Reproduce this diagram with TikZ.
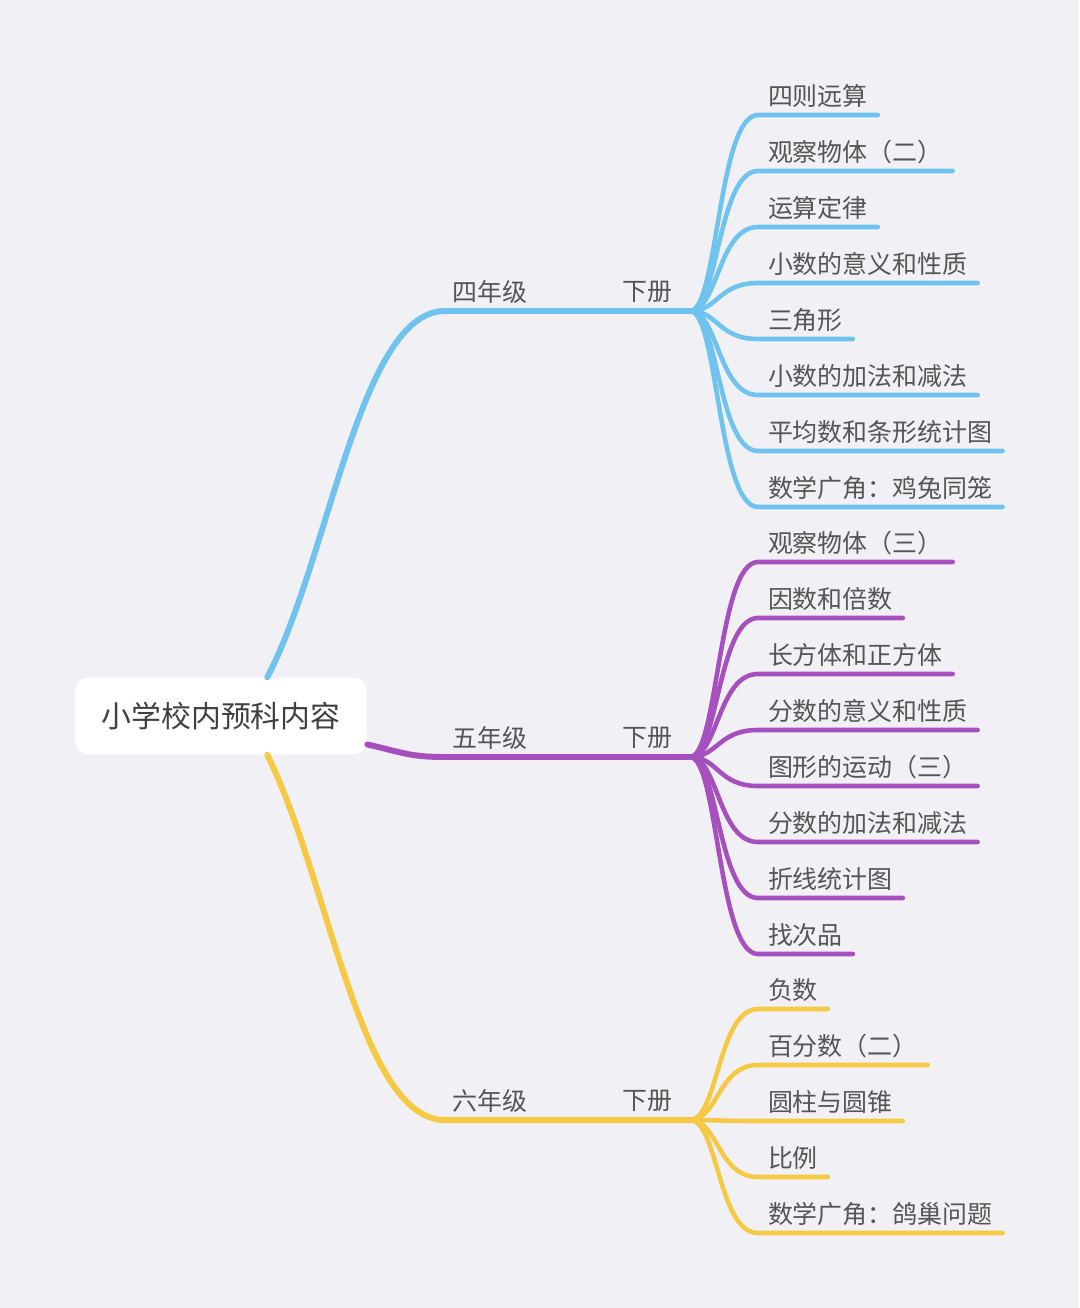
\documentclass[tikz,border=0pt]{standalone}
\usepackage{fontspec}
\setmainfont{Noto Sans CJK SC}
\definecolor{bgcol}{HTML}{F0F0F5}
\definecolor{txtgray}{HTML}{555555}
\definecolor{gradefour}{HTML}{70C3EE}
\definecolor{gradefive}{HTML}{A550BE}
\definecolor{gradesix}{HTML}{F6C944}
\tikzset{
  branch/.style={line width=3.4pt, line cap=round},
  twig/.style={line width=2.6pt, line cap=round},
  leaf/.style={anchor=south west, inner xsep=5.5pt, inner ysep=3.8pt,
    text=txtgray, font=\fontsize{14.2}{16}\selectfont},
  grade/.style={text=txtgray, font=\fontsize{14.2}{16}\selectfont},
}
\begin{document}
\begin{tikzpicture}[x=0.02cm,y=-0.02cm]
\fill[bgcol] (0,0) rectangle (1079,1308);
\useasboundingbox (0,0) rectangle (1079,1308);

% root
\node[
  fill=white,
  rounded corners=8pt,
  minimum width=5.84cm,
  minimum height=1.54cm,
  text=black!75,
  font=\fontsize{17}{20}\selectfont
] (root) at (221,716) {小学校内预科内容};

% grade labels and forks
\node[grade] (g4) at (490,292) {四年级};
\node[grade] (v4) at (647,292) {下册};
\coordinate (k4) at (445,311);
\coordinate (f4) at (690,311);
\node[grade] (g5) at (490,738) {五年级};
\node[grade] (v5) at (647,738) {下册};
\coordinate (k5) at (445,757);
\coordinate (f5) at (690,757);
\node[grade] (g6) at (490,1101) {六年级};
\node[grade] (v6) at (647,1101) {下册};
\coordinate (k6) at (445,1120);
\coordinate (f6) at (690,1120);

\draw[branch, gradefour] (root.40) .. controls +(62,-118) and +(-85,0) .. (k4) -- (f4);
\draw[branch, gradefive] (root.-11) .. controls +(35,8) and +(-35,0) .. (k5) -- (f5);
\draw[branch, gradesix] (root.-40) .. controls +(62,125) and +(-85,0) .. (k6) -- (f6);

% fourth grade
\node[leaf] (a1) at (758,115) {四则远算};
\node[leaf] (a2) at (758,171) {观察物体（二）};
\node[leaf] (a3) at (758,227) {运算定律};
\node[leaf] (a4) at (758,283) {小数的意义和性质};
\node[leaf] (a5) at (758,339) {三角形};
\node[leaf] (a6) at (758,395) {小数的加法和减法};
\node[leaf] (a7) at (758,451) {平均数和条形统计图};
\node[leaf] (a8) at (758,507) {数学广角：鸡兔同笼};
\draw[twig, gradefour] (f4) .. controls +(28,0) and +(-40,0) .. (a1.south west) -- (a1.south east);
\draw[twig, gradefour] (f4) .. controls +(28,0) and +(-40,0) .. (a2.south west) -- (a2.south east);
\draw[twig, gradefour] (f4) .. controls +(28,0) and +(-40,0) .. (a3.south west) -- (a3.south east);
\draw[twig, gradefour] (f4) .. controls +(28,0) and +(-40,0) .. (a4.south west) -- (a4.south east);
\draw[twig, gradefour] (f4) .. controls +(28,0) and +(-40,0) .. (a5.south west) -- (a5.south east);
\draw[twig, gradefour] (f4) .. controls +(28,0) and +(-40,0) .. (a6.south west) -- (a6.south east);
\draw[twig, gradefour] (f4) .. controls +(28,0) and +(-40,0) .. (a7.south west) -- (a7.south east);
\draw[twig, gradefour] (f4) .. controls +(28,0) and +(-40,0) .. (a8.south west) -- (a8.south east);

% fifth grade
\node[leaf] (b1) at (758,562) {观察物体（三）};
\node[leaf] (b2) at (758,618) {因数和倍数};
\node[leaf] (b3) at (758,674) {长方体和正方体};
\node[leaf] (b4) at (758,730) {分数的意义和性质};
\node[leaf] (b5) at (758,786) {图形的运动（三）};
\node[leaf] (b6) at (758,842) {分数的加法和减法};
\node[leaf] (b7) at (758,898) {折线统计图};
\node[leaf] (b8) at (758,954) {找次品};
\draw[twig, gradefive] (f5) .. controls +(28,0) and +(-40,0) .. (b1.south west) -- (b1.south east);
\draw[twig, gradefive] (f5) .. controls +(28,0) and +(-40,0) .. (b2.south west) -- (b2.south east);
\draw[twig, gradefive] (f5) .. controls +(28,0) and +(-40,0) .. (b3.south west) -- (b3.south east);
\draw[twig, gradefive] (f5) .. controls +(28,0) and +(-40,0) .. (b4.south west) -- (b4.south east);
\draw[twig, gradefive] (f5) .. controls +(28,0) and +(-40,0) .. (b5.south west) -- (b5.south east);
\draw[twig, gradefive] (f5) .. controls +(28,0) and +(-40,0) .. (b6.south west) -- (b6.south east);
\draw[twig, gradefive] (f5) .. controls +(28,0) and +(-40,0) .. (b7.south west) -- (b7.south east);
\draw[twig, gradefive] (f5) .. controls +(28,0) and +(-40,0) .. (b8.south west) -- (b8.south east);

% sixth grade
\node[leaf] (c1) at (758,1009) {负数};
\node[leaf] (c2) at (758,1065) {百分数（二）};
\node[leaf] (c3) at (758,1121) {圆柱与圆锥};
\node[leaf] (c4) at (758,1177) {比例};
\node[leaf] (c5) at (758,1233) {数学广角：鸽巢问题};
\draw[twig, gradesix] (f6) .. controls +(28,0) and +(-40,0) .. (c1.south west) -- (c1.south east);
\draw[twig, gradesix] (f6) .. controls +(28,0) and +(-40,0) .. (c2.south west) -- (c2.south east);
\draw[twig, gradesix] (f6) .. controls +(28,0) and +(-40,0) .. (c3.south west) -- (c3.south east);
\draw[twig, gradesix] (f6) .. controls +(28,0) and +(-40,0) .. (c4.south west) -- (c4.south east);
\draw[twig, gradesix] (f6) .. controls +(28,0) and +(-40,0) .. (c5.south west) -- (c5.south east);
\end{tikzpicture}
\end{document}
